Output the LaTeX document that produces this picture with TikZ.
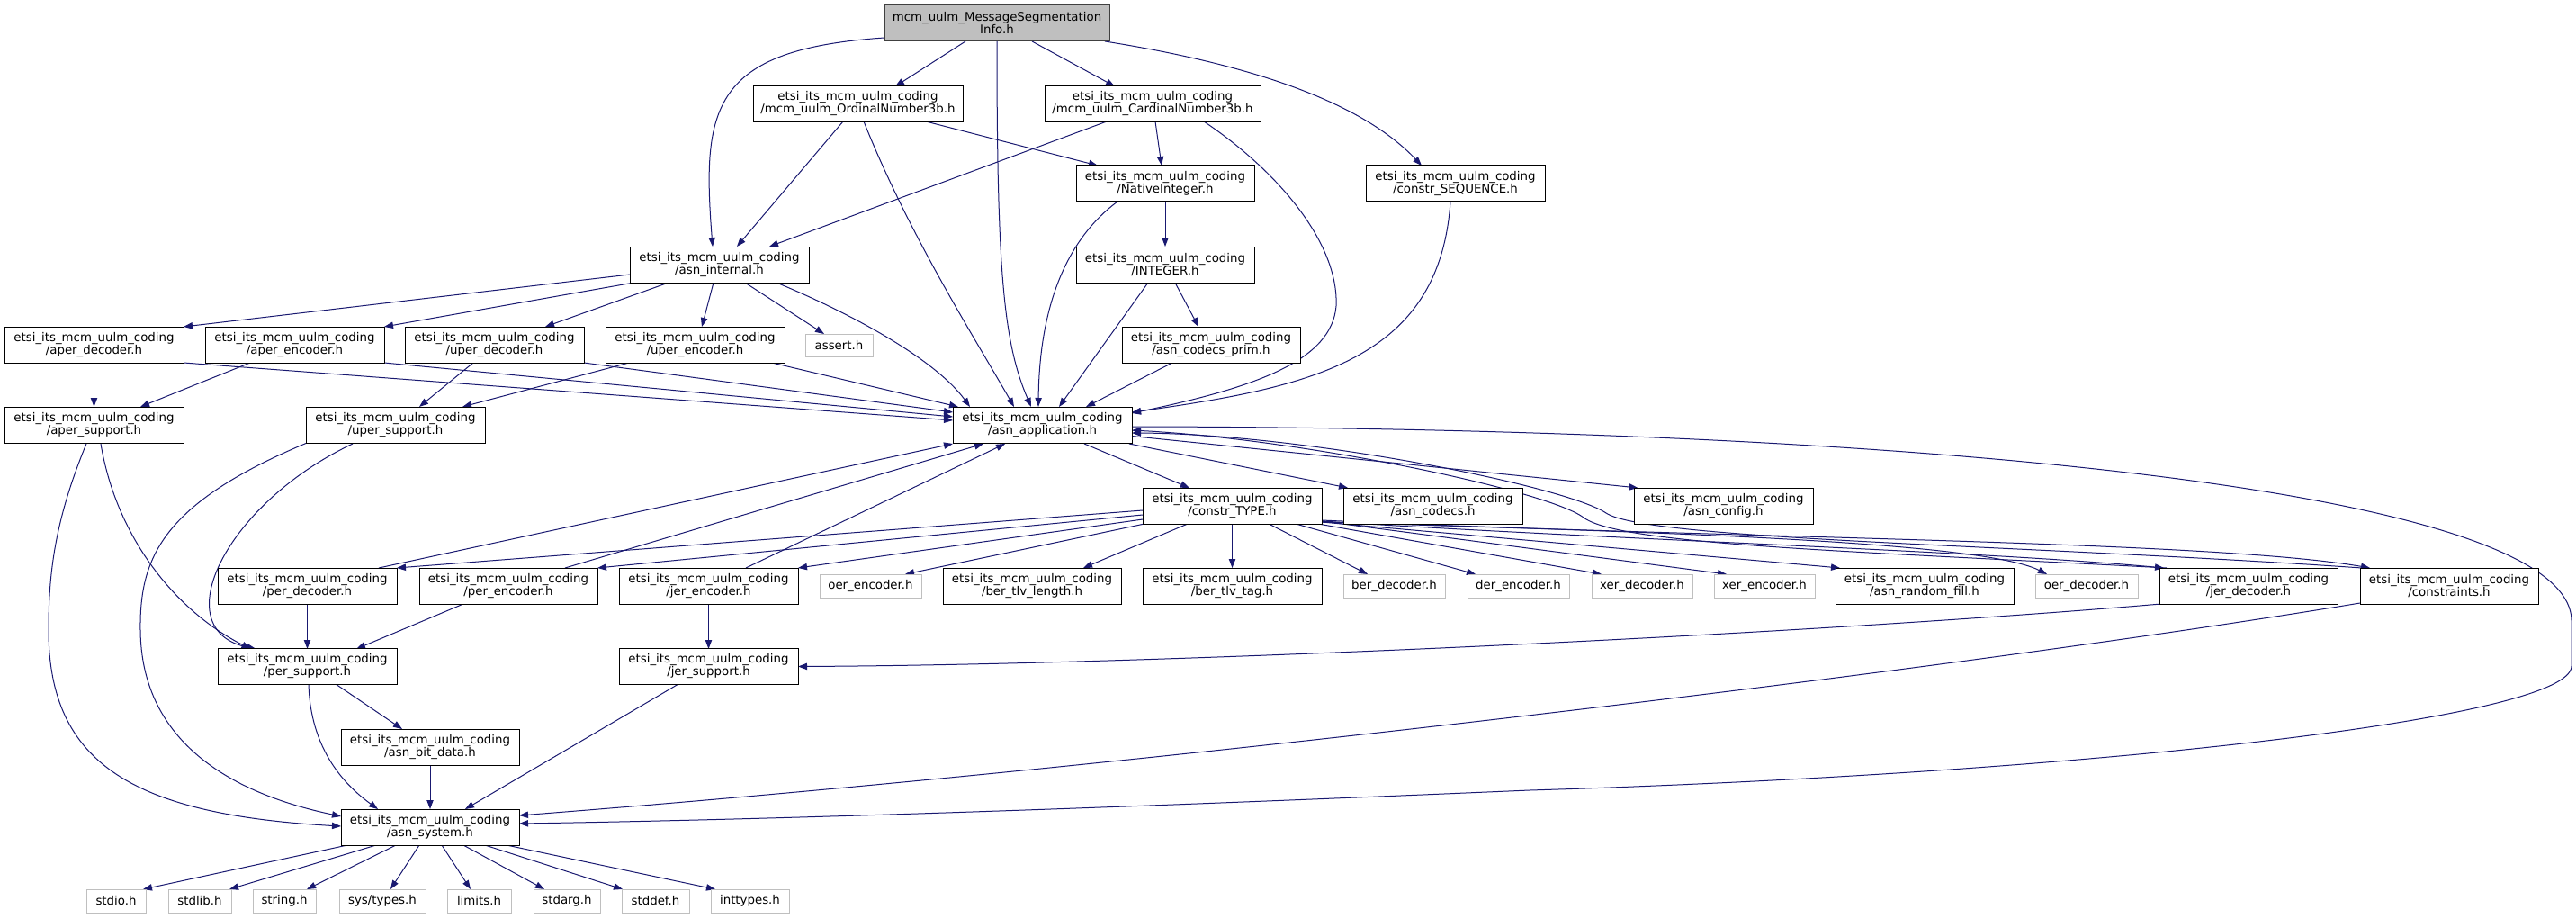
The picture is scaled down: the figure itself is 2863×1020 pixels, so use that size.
\documentclass[tikz,border=0pt]{standalone}
\usepackage{fontspec}
\setmainfont{DejaVu Sans}
\usetikzlibrary{arrows.meta,calc,backgrounds}
\definecolor{edgec}{HTML}{191970}
\definecolor{grayc}{HTML}{BFBFBF}
\definecolor{darkb}{HTML}{404040}
\newcommand{\lbl}{\fontsize{10pt}{10.5pt}\selectfont}
\newcommand{\pfx}{etsi\_its\_mcm\_uulm\_coding}
\tikzset{
  box/.style={draw=black, fill=white, line width=0.75pt, inner sep=0pt, minimum height=30pt, align=center, font=\lbl},
  gbox/.style={box, draw=grayc, minimum height=19.5pt},
  bw/.style={minimum width=#1*0.75pt},
  bh/.style={minimum height=#1*0.75pt},
  conn/.style={draw=edgec, line width=0.75pt, -{Triangle[length=7.5pt,width=5.5pt]}}
}
\begin{document}
\begin{tikzpicture}[x=0.75pt,y=-0.75pt]
\useasboundingbox (0,0) rectangle (2863,1020);
% row 0
\node[box,bw=250,fill=grayc,draw=darkb] (top) at (1108,26) {mcm\_uulm\_MessageSegmentation\\Info.h};
% row 1
\node[box,bw=233] (ord) at (953.5,115.5) {\pfx\\/mcm\_uulm\_OrdinalNumber3b.h};
\node[box,bw=240] (card) at (1281,115.5) {\pfx\\/mcm\_uulm\_CardinalNumber3b.h};
% row 2
\node[box,bw=198] (nat) at (1295,204) {\pfx\\/NativeInteger.h};
\node[box,bw=199] (seq) at (1617.5,204) {\pfx\\/constr\_SEQUENCE.h};
% row 3
\node[box,bw=198] (integer) at (1295,294) {\pfx\\/INTEGER.h};
\node[box,bw=199] (internal) at (799.5,294) {\pfx\\/asn\_internal.h};
% row 4
\node[box,bw=199] (aperdec) at (104.5,383) {\pfx\\/aper\_decoder.h};
\node[box,bw=199] (aperenc) at (327.5,383) {\pfx\\/aper\_encoder.h};
\node[box,bw=199] (uperdec) at (549.5,383) {\pfx\\/uper\_decoder.h};
\node[box,bw=199] (uperenc) at (772.5,383) {\pfx\\/uper\_encoder.h};
\node[gbox,bw=75,bh=25] (assert) at (932.5,383.5) {assert.h};
\node[box,bw=198] (prim) at (1346,383) {\pfx\\/asn\_codecs\_prim.h};
% row 5
\node[box,bw=199] (apersup) at (104.5,472.5) {\pfx\\/aper\_support.h};
\node[box,bw=199] (upersup) at (439.5,472.5) {\pfx\\/uper\_support.h};
\node[box,bw=199] (app) at (1158.5,472.5) {\pfx\\/asn\_application.h};
% row 6
\node[box,bw=199] (type) at (1369.5,562) {\pfx\\/constr\_TYPE.h};
\node[box,bw=199] (codecs) at (1592.5,562) {\pfx\\/asn\_codecs.h};
\node[box,bw=199] (config) at (1915.5,562) {\pfx\\/asn\_config.h};
% row 7
\node[box,bw=199] (perdec) at (341.5,651) {\pfx\\/per\_decoder.h};
\node[box,bw=198] (perenc) at (565,651) {\pfx\\/per\_encoder.h};
\node[box,bw=199] (jerenc) at (787.5,651) {\pfx\\/jer\_encoder.h};
\node[gbox,bw=113] (oerenc) at (967.5,651) {oer\_encoder.h};
\node[box,bw=198] (berlen) at (1147,651) {\pfx\\/ber\_tlv\_length.h};
\node[box,bw=199] (bertag) at (1369.5,651) {\pfx\\/ber\_tlv\_tag.h};
\node[gbox,bw=113] (berdec) at (1549.5,651) {ber\_decoder.h};
\node[gbox,bw=113] (derenc) at (1687.5,651) {der\_encoder.h};
\node[gbox,bw=112] (xerdec) at (1825,651) {xer\_decoder.h};
\node[gbox,bw=112] (xerenc) at (1961,651) {xer\_encoder.h};
\node[box,bw=198] (randfill) at (2139,651) {\pfx\\/asn\_random\_fill.h};
\node[gbox,bw=114] (oerdec) at (2319,651) {oer\_decoder.h};
\node[box,bw=198] (jerdec) at (2499,651) {\pfx\\/jer\_decoder.h};
\node[box,bw=198] (constraints) at (2722,651) {\pfx\\/constraints.h};
% row 8
\node[box,bw=199] (persup) at (341.5,740.5) {\pfx\\/per\_support.h};
\node[box,bw=199] (jersup) at (787.5,740.5) {\pfx\\/jer\_support.h};
% row 9-10
\node[box,bw=198] (bitdata) at (478,830) {\pfx\\/asn\_bit\_data.h};
\node[box,bw=198] (system) at (478,919) {\pfx\\/asn\_system.h};
% row 11
\node[gbox,bw=66] (stdio) at (129,1001) {stdio.h};
\node[gbox,bw=70] (stdlib) at (222,1001) {stdlib.h};
\node[gbox,bw=70] (string) at (316,1001) {string.h};
\node[gbox,bw=96] (systypes) at (425,1001) {sys/types.h};
\node[gbox,bw=71] (limits) at (532.5,1001) {limits.h};
\node[gbox,bw=74] (stdarg) at (630,1001) {stdarg.h};
\node[gbox,bw=75] (stddef) at (728.5,1001) {stddef.h};
\node[gbox,bw=87] (inttypes) at (833.5,1001) {inttypes.h};

\begin{scope}[on background layer]
% from top
\draw[conn] ($(top)+(-35,20)$) -- ($(ord)+(41.5,-19.5)$);
\draw[conn] ($(top)+(-125,16)$) .. controls +(-193,13) and +(-12,-154) .. ($(internal)+(-7.5,-20)$);
\draw[conn] ($(top)+(0,20)$) .. controls +(0,254) and +(-31,-72) .. ($(app)+(-12.5,-20.5)$);
\draw[conn] ($(top)+(39,20)$) -- ($(card)+(-42,-19.5)$);
\draw[conn] ($(top)+(120,20)$) .. controls +(152,24) and +(-70,-74) .. ($(seq)+(-37.5,-20)$);
% ordinal / cardinal
\draw[conn] ($(ord)+(75.5,19.5)$) -- ($(nat)+(-75,-20)$);
\draw[conn] ($(ord)+(-16.5,19.5)$) -- ($(internal)+(19.5,-20)$);
\draw[conn] ($(ord)+(6.5,19.5)$) .. controls +(50,125) and +(-47,-82) .. ($(app)+(-31.5,-20.5)$);
\draw[conn] ($(card)+(-51,19.5)$) -- ($(internal)+(55.5,-20)$);
\draw[conn] ($(card)+(3,19.5)$) -- ($(nat)+(-4,-20)$);
\draw[conn] ($(card)+(57,19.5)$) .. controls +(82,55) and +(3,-70) .. ($(card)+(204,224.5)$) .. controls +(-5,60) and +(140,-29) .. ($(app)+(99.5,-13.5)$);
\draw[conn] ($(seq)+(-5.5,20)$) .. controls +(-12,176) and +(200,-28) .. ($(app)+(99.5,-14.5)$);
% native integer / integer / prim
\draw[conn] ($(nat)+(0,20)$) -- ($(integer)+(0,-20)$);
\draw[conn] ($(nat)+(-53,20)$) .. controls +(-62,46) and +(1,-102) .. ($(app)+(-4.5,-20.5)$);
\draw[conn] ($(integer)+(-19,20)$) -- ($(app)+(18.5,-20.5)$);
\draw[conn] ($(integer)+(11,20)$) -- ($(prim)+(-14,-20)$);
\draw[conn] ($(prim)+(-43,20)$) -- ($(app)+(48.5,-20.5)$);
% asn_internal
\draw[conn] ($(internal)+(-99.5,11)$) -- ($(aperdec)+(99.5,-20)$);
\draw[conn] ($(internal)+(-95,20)$) -- ($(aperenc)+(99.5,-20)$);
\draw[conn] ($(internal)+(-56.5,20)$) -- ($(uperdec)+(56.5,-20)$);
\draw[conn] ($(internal)+(-6.5,20)$) -- ($(uperenc)+(7.5,-20)$);
\draw[conn] ($(internal)+(28.5,20)$) -- ($(assert)+(-16.5,-12.5)$);
\draw[conn] ($(internal)+(63.5,20)$) .. controls +(87,36) and +(-38,-52) .. ($(app)+(-80.5,-20.5)$);
% aper / uper
\draw[conn] ($(aperdec)+(0,20)$) -- ($(apersup)+(0,-20.5)$);
\draw[conn] ($(aperdec)+(99.5,20)$) -- ($(app)+(-99.5,-5.5)$);
\draw[conn] ($(aperenc)+(-49.5,20)$) -- ($(apersup)+(51.5,-20.5)$);
\draw[conn] ($(aperenc)+(99.5,20)$) -- ($(app)+(-99.5,-9.5)$);
\draw[conn] ($(uperdec)+(-23.5,20)$) -- ($(upersup)+(26.5,-20.5)$);
\draw[conn] ($(uperdec)+(99.5,20)$) -- ($(app)+(-99.5,-14.5)$);
\draw[conn] ($(uperenc)+(-73.5,20)$) -- ($(upersup)+(74.5,-20.5)$);
\draw[conn] ($(uperenc)+(85.5,20)$) -- ($(app)+(-93.5,-20.5)$);
% supports
\draw[conn] ($(apersup)+(-8.5,20.5)$) .. controls +(-36,87) and +(0,-60) .. ($(apersup)+(-50.5,227.5)$) .. controls +(0,150) and +(-229,-13) .. ($(system)+(-99,-1)$);
\draw[conn] ($(apersup)+(7.5,20.5)$) .. controls +(18,107) and +(-81,-41) .. ($(persup)+(-63,-19.5)$);
\draw[conn] ($(upersup)+(-99.5,20)$) .. controls +(-160,67) and +(-1,-80) .. ($(upersup)+(-283.5,227.5)$) .. controls +(1,120) and +(-129,-27) .. ($(system)+(-99,-12)$);
\draw[conn] ($(upersup)+(-47.5,20.5)$) .. controls +(-142,67) and +(-102,-21) .. ($(persup)+(-57,-19.5)$);
% per / jer encoders, decoders
\draw[conn] ($(perdec)+(0,20)$) -- ($(persup)+(0,-19.5)$);
\draw[conn] ($(perdec)+(79.5,-20)$) -- ($(app)+(-99.5,20.5)$);
\draw[conn] ($(perenc)+(-50,20)$) -- ($(persup)+(54.5,-19.5)$);
\draw[conn] ($(perenc)+(63,-20)$) -- ($(app)+(-65.5,20.5)$);
\draw[conn] ($(jerenc)+(0,20)$) -- ($(jersup)+(0,-19.5)$);
\draw[conn] ($(jerenc)+(41.5,-20)$) -- ($(app)+(-41.5,20.5)$);
% constr_TYPE
\draw[conn] ($(type)+(-99.5,5)$) -- ($(perdec)+(99.5,-20)$);
\draw[conn] ($(type)+(-99.5,10)$) -- ($(perenc)+(99,-20)$);
\draw[conn] ($(type)+(-99.5,15)$) -- ($(jerenc)+(99.5,-20)$);
\draw[conn] ($(type)+(-97.5,20)$) -- ($(oerenc)+(38.5,-13)$);
\draw[conn] ($(type)+(-49.5,20)$) -- ($(berlen)+(57,-20)$);
\draw[conn] ($(type)+(0,20)$) -- ($(bertag)+(0,-20)$);
\draw[conn] ($(type)+(40.5,20)$) -- ($(berdec)+(-29.5,-13)$);
\draw[conn] ($(type)+(70.5,20)$) -- ($(derenc)+(-47.5,-13)$);
\draw[conn] ($(type)+(95.5,20)$) -- ($(xerdec)+(-45,-13)$);
\draw[conn] ($(type)+(99.5,17)$) -- ($(xerenc)+(-42,-13)$);
\draw[conn] ($(type)+(99.5,18)$) -- ($(randfill)+(-94,-20)$);
\draw[conn] ($(type)+(99.5,18)$) .. controls +(331,10) and +(-75,-38) .. ($(oerdec)+(-44,-13)$);
\draw[conn] ($(type)+(99.5,17)$) .. controls +(331,21) and +(-205,-19) .. ($(jerdec)+(-94,-20)$);
\draw[conn] ($(type)+(99.5,16)$) .. controls +(431,20) and +(-180,-31) .. ($(constraints)+(-88,-20)$);
% asn_application out
\draw[conn] ($(app)+(46.5,20.5)$) -- ($(type)+(-47.5,-20)$);
\draw[conn] ($(app)+(96.5,20.5)$) -- ($(codecs)+(-94.5,-20)$);
\draw[conn] ($(app)+(99.5,12)$) -- ($(config)+(-95,-20)$);
\draw[conn] ($(app)+(99.5,1.5)$) .. controls +(842,1) and +(0,-150) .. ($(app)+(1699.5,217.5)$) -- ($(app)+(1699.5,267.5)$) .. controls +(0,60) and +(600,-18) .. ($(app)+(541.5,405.5)$) .. controls +(-400,17) and +(323,-5) .. ($(system)+(99,-4)$);
% jer_decoder / constraints
\draw[conn] ($(jerdec)+(-91,-20)$) .. controls +(-358,-19) and +(40,30) .. ($(jerdec)+(-739,-76)$) .. controls +(-40,-30) and +(192,10) .. ($(app)+(99.5,5.5)$);
\draw[conn] ($(constraints)+(-97,-20)$) .. controls +(-380,-26) and +(45,30) .. ($(constraints)+(-937,-81)$) .. controls +(-45,-30) and +(192,1) .. ($(app)+(99.5,8.5)$);
\draw[conn] ($(jerdec)+(-97,20)$) .. controls +(-402,34) and +(413,-2) .. ($(jersup)+(99.5,0)$);
\draw[conn] ($(constraints)+(-99,19)$) .. controls +(-423,70) and +(723,-56) .. ($(system)+(99,-13)$);
% lower part
\draw[conn] ($(persup)+(1.5,19.5)$) .. controls +(2,70) and +(-40,-29) .. ($(system)+(-58,-20)$);
\draw[conn] ($(persup)+(31.5,19.5)$) -- ($(bitdata)+(-31,-20)$);
\draw[conn] ($(bitdata)+(0,20)$) -- ($(system)+(0,-20)$);
\draw[conn] ($(jersup)+(-33.5,19.5)$) -- ($(system)+(39,-20)$);
% asn_system out
\draw[conn] ($(system)+(-92,20)$) -- ($(stdio)+(30,-13)$);
\draw[conn] ($(system)+(-60,20)$) -- ($(stdlib)+(33,-13)$);
\draw[conn] ($(system)+(-38,20)$) -- ($(string)+(25,-13)$);
\draw[conn] ($(system)+(-12,20)$) -- ($(systypes)+(9,-13)$);
\draw[conn] ($(system)+(13,20)$) -- ($(limits)+(-9.5,-13)$);
\draw[conn] ($(system)+(37,20)$) -- ($(stdarg)+(-25,-13)$);
\draw[conn] ($(system)+(61,20)$) -- ($(stddef)+(-36.5,-13)$);
\draw[conn] ($(system)+(85,20)$) -- ($(inttypes)+(-38.5,-13)$);
\end{scope}
\end{tikzpicture}
\end{document}
